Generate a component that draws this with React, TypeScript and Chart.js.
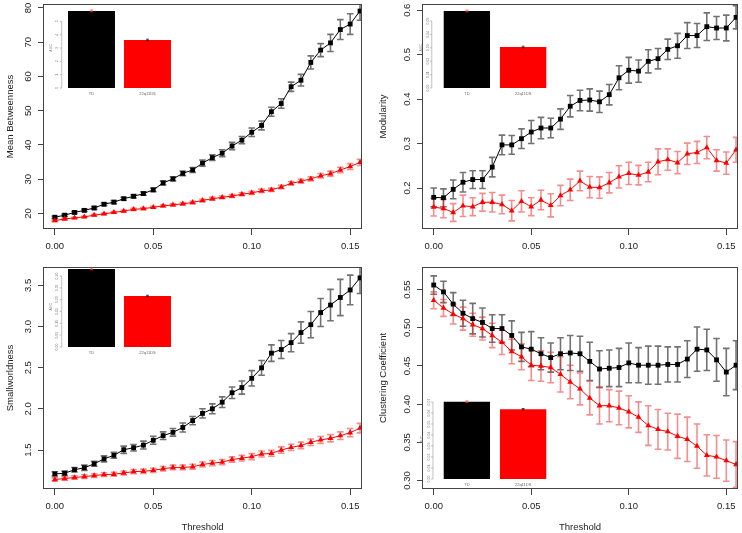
import React, { useEffect, useRef } from "react";
import { Chart, registerables } from "chart.js";
Chart.register(...registerables);

const FONT = "'Liberation Sans', Arial, Helvetica, sans-serif";

// ---------- data ----------
const thresholds = [0.000, 0.005, 0.010, 0.015, 0.020, 0.025, 0.030, 0.035, 0.040, 0.045, 0.050, 0.055, 0.060, 0.065, 0.070, 0.075, 0.080, 0.085, 0.090, 0.095, 0.100, 0.105, 0.110, 0.115, 0.120, 0.125, 0.130, 0.135, 0.140, 0.145, 0.150, 0.155];
const xTicks = [0, 0.05, 0.1, 0.15];

const betweennessTD = [18.9, 19.5, 20.3, 20.9, 21.6, 22.7, 23.3, 24.3, 25.0, 25.8, 26.9, 28.9, 30.1, 31.7, 32.7, 34.7, 36.3, 37.6, 39.7, 41.4, 43.7, 45.7, 49.7, 52.1, 57.0, 58.9, 64.1, 67.7, 69.8, 73.7, 75.3, 79.1];
const betweennessTDErr = [0.3, 0.3, 0.35, 0.35, 0.4, 0.4, 0.45, 0.45, 0.5, 0.5, 0.55, 0.6, 0.6, 0.7, 0.7, 0.9, 0.85, 1.0, 1.05, 1.05, 1.25, 1.3, 1.3, 1.4, 1.35, 1.7, 1.9, 1.9, 2.5, 2.9, 3.0, 2.7];
const betweenness22q = [17.9, 18.4, 18.7, 19.0, 19.5, 19.9, 20.3, 20.7, 21.2, 21.4, 21.8, 22.2, 22.5, 22.8, 23.2, 23.8, 24.3, 24.7, 25.1, 25.6, 26.0, 26.6, 26.9, 27.7, 28.8, 29.4, 30.1, 31.0, 31.6, 32.7, 33.7, 34.9];
const betweenness22qErr = [0.2, 0.2, 0.2, 0.2, 0.25, 0.25, 0.25, 0.3, 0.3, 0.3, 0.3, 0.3, 0.3, 0.35, 0.35, 0.35, 0.4, 0.4, 0.4, 0.45, 0.45, 0.5, 0.5, 0.5, 0.55, 0.6, 0.6, 0.65, 0.75, 0.8, 0.85, 0.9];
const betweennessTicks = [20, 30, 40, 50, 60, 70, 80];

const modularityTD = [0.179, 0.178, 0.197, 0.213, 0.219, 0.219, 0.247, 0.297, 0.297, 0.311, 0.326, 0.335, 0.335, 0.355, 0.384, 0.397, 0.398, 0.394, 0.410, 0.448, 0.465, 0.463, 0.485, 0.491, 0.512, 0.520, 0.543, 0.543, 0.563, 0.560, 0.560, 0.584];
const modularityTDErr = [0.021, 0.020, 0.021, 0.022, 0.020, 0.020, 0.022, 0.022, 0.021, 0.022, 0.026, 0.024, 0.022, 0.023, 0.024, 0.023, 0.025, 0.024, 0.023, 0.027, 0.029, 0.025, 0.026, 0.023, 0.023, 0.028, 0.029, 0.027, 0.031, 0.026, 0.029, 0.026];
const modularity22q = [0.157, 0.154, 0.145, 0.160, 0.158, 0.168, 0.168, 0.163, 0.149, 0.170, 0.158, 0.173, 0.161, 0.183, 0.196, 0.216, 0.202, 0.201, 0.212, 0.225, 0.233, 0.229, 0.236, 0.259, 0.264, 0.257, 0.277, 0.280, 0.291, 0.262, 0.256, 0.286];
const modularity22qErr = [0.020, 0.021, 0.020, 0.024, 0.020, 0.020, 0.022, 0.021, 0.023, 0.024, 0.020, 0.022, 0.026, 0.023, 0.024, 0.022, 0.024, 0.024, 0.023, 0.025, 0.025, 0.022, 0.022, 0.029, 0.024, 0.025, 0.024, 0.025, 0.025, 0.024, 0.025, 0.028];
const modularityTicks = [0.2, 0.3, 0.4, 0.5, 0.6];

const smallworldTD = [1.210, 1.218, 1.261, 1.285, 1.333, 1.393, 1.436, 1.504, 1.528, 1.560, 1.619, 1.675, 1.715, 1.774, 1.858, 1.945, 2.001, 2.081, 2.196, 2.259, 2.371, 2.498, 2.677, 2.721, 2.804, 2.927, 3.023, 3.170, 3.261, 3.353, 3.444, 3.591];
const smallworldTDErr = [0.026, 0.026, 0.028, 0.032, 0.030, 0.036, 0.036, 0.044, 0.040, 0.048, 0.048, 0.046, 0.046, 0.054, 0.050, 0.056, 0.060, 0.065, 0.070, 0.080, 0.093, 0.090, 0.100, 0.110, 0.110, 0.130, 0.160, 0.170, 0.190, 0.220, 0.180, 0.190];
const smallworld22q = [1.142, 1.154, 1.166, 1.178, 1.190, 1.202, 1.206, 1.222, 1.238, 1.242, 1.253, 1.273, 1.289, 1.289, 1.297, 1.325, 1.341, 1.353, 1.385, 1.401, 1.420, 1.452, 1.460, 1.500, 1.532, 1.556, 1.595, 1.623, 1.643, 1.675, 1.711, 1.766];
const smallworld22qErr = [0.020, 0.020, 0.020, 0.022, 0.022, 0.022, 0.024, 0.024, 0.026, 0.026, 0.026, 0.028, 0.028, 0.028, 0.030, 0.030, 0.032, 0.032, 0.032, 0.034, 0.036, 0.036, 0.036, 0.038, 0.038, 0.040, 0.040, 0.042, 0.044, 0.046, 0.050, 0.058];
const smallworldTicks = [1.5, 2.0, 2.5, 3.0, 3.5];

const clusteringTD = [0.556, 0.547, 0.531, 0.519, 0.512, 0.507, 0.499, 0.499, 0.490, 0.475, 0.472, 0.466, 0.461, 0.466, 0.467, 0.466, 0.456, 0.446, 0.447, 0.448, 0.454, 0.451, 0.451, 0.451, 0.452, 0.452, 0.459, 0.472, 0.471, 0.458, 0.442, 0.451];
const clusteringTDErr = [0.012, 0.014, 0.015, 0.017, 0.020, 0.019, 0.018, 0.018, 0.019, 0.019, 0.023, 0.021, 0.019, 0.021, 0.023, 0.023, 0.025, 0.024, 0.024, 0.025, 0.026, 0.023, 0.025, 0.025, 0.023, 0.023, 0.024, 0.029, 0.027, 0.028, 0.031, 0.032];
const clustering22q = [0.536, 0.526, 0.518, 0.512, 0.504, 0.499, 0.490, 0.481, 0.469, 0.462, 0.451, 0.450, 0.448, 0.439, 0.429, 0.420, 0.408, 0.398, 0.398, 0.395, 0.390, 0.383, 0.372, 0.367, 0.364, 0.358, 0.354, 0.345, 0.333, 0.331, 0.326, 0.321];
const clustering22qErr = [0.011, 0.011, 0.013, 0.015, 0.015, 0.015, 0.016, 0.016, 0.016, 0.017, 0.020, 0.020, 0.020, 0.023, 0.022, 0.021, 0.022, 0.024, 0.021, 0.022, 0.021, 0.020, 0.026, 0.026, 0.024, 0.029, 0.029, 0.029, 0.027, 0.028, 0.027, 0.030];
const clusteringTicks = [0.30, 0.35, 0.40, 0.45, 0.50, 0.55];

// inset bar charts (area under curve)
const aucGroups = ["TD", "22q11DS"];
const betweennessAUC = [5.78, 3.6];
const betweennessAUCErr = [0.04, 0.03];
const betweennessAUCTicks = [0, 1, 2, 3, 4, 5];
const modularityAUC = [0.0575, 0.0306];
const modularityAUCErr = [0.0004, 0.0003];
const modularityAUCTicks = [0, 0.01, 0.02, 0.03, 0.04, 0.05];
const smallworldAUC = [0.33, 0.2155];
const smallworldAUCErr = [0.002, 0.0015];
const smallworldAUCTicks = [0, 0.05, 0.1, 0.15, 0.2, 0.25, 0.3];
const clusteringAUC = [0.0703, 0.0634];
const clusteringAUCErr = [0.0003, 0.0003];
const clusteringAUCTicks = [0, 0.01, 0.02, 0.03, 0.04, 0.05, 0.06, 0.07];

// ---------- plugins ----------
const errorBarPlugin = {
  id: "errorBars",
  beforeDatasetsDraw(chart: any) {
    const { ctx, chartArea: ca } = chart;
    const ys = chart.scales.y;
    ctx.save();
    ctx.beginPath();
    ctx.rect(ca.left, ca.top, ca.right - ca.left, ca.bottom - ca.top);
    ctx.clip();
    chart.data.datasets.forEach((ds: any, i: number) => {
      if (!ds.errors) return;
      const meta = chart.getDatasetMeta(i);
      ctx.strokeStyle = ds.errorColor;
      ctx.lineWidth = 1.6;
      meta.data.forEach((pt: any, j: number) => {
        const v = ds.data[j].y;
        const e = ds.errors[j];
        const x = pt.x;
        const y1 = ys.getPixelForValue(v + e);
        const y2 = ys.getPixelForValue(v - e);
        ctx.beginPath();
        ctx.moveTo(x, y1);
        ctx.lineTo(x, y2);
        ctx.moveTo(x - 3.3, y1);
        ctx.lineTo(x + 3.3, y1);
        ctx.moveTo(x - 3.3, y2);
        ctx.lineTo(x + 3.3, y2);
        ctx.stroke();
      });
    });
    ctx.restore();
  },
};

const frameAndLabelsPlugin = {
  id: "frameLabels",
  afterDraw(chart: any, _a: any, opts: any) {
    const { ctx, chartArea: ca } = chart;
    const ys = chart.scales.y;
    ctx.save();
    ctx.strokeStyle = "#444";
    ctx.lineWidth = 1;
    ctx.strokeRect(Math.round(ca.left) + 0.5, Math.round(ca.top) + 0.5, Math.round(ca.right - ca.left) - 1, Math.round(ca.bottom - ca.top) - 1);
    ctx.fillStyle = "#222";
    ctx.font = `9.5px ${FONT}`;
    ctx.textAlign = "center";
    ctx.textBaseline = "middle";
    (opts.ticks as number[]).forEach((v) => {
      const py = ys.getPixelForValue(v);
      ctx.save();
      ctx.translate(ca.left - 14.5, py);
      ctx.rotate(-Math.PI / 2);
      ctx.fillText(v.toFixed(opts.decimals), 0, 0);
      ctx.restore();
    });
    ctx.restore();
  },
};

const insetPlugin = {
  id: "insetAxis",
  afterDraw(chart: any, _a: any, opts: any) {
    const { ctx, chartArea: ca } = chart;
    const ys = chart.scales.y;
    const ax = ca.left - opts.axisGap;
    const ticks: number[] = opts.ticks;
    ctx.save();
    ctx.strokeStyle = "#999";
    ctx.lineWidth = 0.6;
    const yTop = ys.getPixelForValue(ticks[ticks.length - 1]);
    const yBot = ys.getPixelForValue(ticks[0]);
    ctx.beginPath();
    ctx.moveTo(ax, yTop);
    ctx.lineTo(ax, yBot);
    ticks.forEach((v) => {
      const py = ys.getPixelForValue(v);
      ctx.moveTo(ax - 2, py);
      ctx.lineTo(ax, py);
    });
    ctx.stroke();
    ctx.fillStyle = "#777";
    ctx.font = `3.5px ${FONT}`;
    ctx.textAlign = "center";
    ctx.textBaseline = "middle";
    ticks.forEach((v) => {
      const py = ys.getPixelForValue(v);
      ctx.save();
      ctx.translate(ax - 4.2, py);
      ctx.rotate(-Math.PI / 2);
      ctx.fillText(v.toFixed(opts.decimals), 0, 0);
      ctx.restore();
    });
    ctx.save();
    ctx.translate(ax - 10.5, (ca.top + ca.bottom) / 2);
    ctx.rotate(-Math.PI / 2);
    ctx.fillText("AUC", 0, 0);
    ctx.restore();
    const meta = chart.getDatasetMeta(0);
    const ds = chart.data.datasets[0];
    meta.data.forEach((bar: any, i: number) => {
      ctx.fillStyle = "#666";
      ctx.font = `4px ${FONT}`;
      ctx.fillText(chart.data.labels[i], bar.x, yBot + 6.3);
      const v = ds.data[i];
      const e = opts.errors[i];
      const p1 = ys.getPixelForValue(v + e);
      const p2 = ys.getPixelForValue(v - e);
      ctx.strokeStyle = i === 0 ? "rgba(255,60,60,0.9)" : "#222";
      ctx.lineWidth = 0.8;
      ctx.beginPath();
      ctx.moveTo(bar.x, p1 - 0.4);
      ctx.lineTo(bar.x, p2 + 0.4);
      ctx.moveTo(bar.x - 1.5, p1 - 0.4);
      ctx.lineTo(bar.x + 1.5, p1 - 0.4);
      ctx.moveTo(bar.x - 1.5, p2 + 0.4);
      ctx.lineTo(bar.x + 1.5, p2 + 0.4);
      ctx.stroke();
    });
    ctx.restore();
  },
};

// ---------- panels ----------
type Panel = {
  left: number; top: number; width: number; height: number;
  yAxisWidth: number; xAxisHeight: number; padTop: number; padRight: number;
  yMin: number; yMax: number; yTicks: number[]; decimals: number;
  yTitle: string; yTitlePad: number; showXTitle: boolean;
  td: number[]; tdErr: number[]; dg: number[]; dgErr: number[];
};

const panels: Panel[] = [
  { left: 0, top: 0, width: 371, height: 263, yAxisWidth: 43, xAxisHeight: 34, padTop: 2, padRight: 9,
    yMin: 15.46, yMax: 81.16, yTicks: betweennessTicks, decimals: 0, yTitle: "Mean Betweenness", yTitlePad: 4.8, showXTitle: false,
    td: betweennessTD, tdErr: betweennessTDErr, dg: betweenness22q, dgErr: betweenness22qErr },
  { left: 371, top: 0, width: 371, height: 263, yAxisWidth: 51, xAxisHeight: 34, padTop: 2, padRight: 2,
    yMin: 0.1078, yMax: 0.614, yTicks: modularityTicks, decimals: 1, yTitle: "Modularity", yTitlePad: 6.8, showXTitle: false,
    td: modularityTD, tdErr: modularityTDErr, dg: modularity22q, dgErr: modularity22qErr },
  { left: 0, top: 263, width: 371, height: 270, yAxisWidth: 43, xAxisHeight: 44, padTop: 0, padRight: 9,
    yMin: 1.027, yMax: 3.723, yTicks: smallworldTicks, decimals: 1, yTitle: "Smallworldness", yTitlePad: 4.8, showXTitle: true,
    td: smallworldTD, tdErr: smallworldTDErr, dg: smallworld22q, dgErr: smallworld22qErr },
  { left: 371, top: 263, width: 371, height: 270, yAxisWidth: 51, xAxisHeight: 44, padTop: 0, padRight: 2,
    yMin: 0.2889, yMax: 0.5796, yTicks: clusteringTicks, decimals: 2, yTitle: "Clustering Coefficient", yTitlePad: 6.8, showXTitle: true,
    td: clusteringTD, tdErr: clusteringTDErr, dg: clustering22q, dgErr: clustering22qErr },
];

type Inset = {
  x0: number; x1: number; yZero: number; yPxPerUnit: number; yMax: number; barFrac: number; axisGap: number;
  values: number[]; errors: number[]; ticks: number[]; decimals: number;
};

const insets: Inset[] = [
  { x0: 63.5, x1: 175.5, yZero: 88, yPxPerUnit: 13.33, yMax: 6, barFrac: 0.839, axisGap: 1.8,
    values: betweennessAUC, errors: betweennessAUCErr, ticks: betweennessAUCTicks, decimals: 0 },
  { x0: 438.75, x1: 551.25, yZero: 88, yPxPerUnit: 1340, yMax: 0.06, barFrac: 0.823, axisGap: 7,
    values: modularityAUC, errors: modularityAUCErr, ticks: modularityAUCTicks, decimals: 2 },
  { x0: 63.5, x1: 175.5, yZero: 347, yPxPerUnit: 236.6, yMax: 0.34, barFrac: 0.839, axisGap: 1.8,
    values: smallworldAUC, errors: smallworldAUCErr, ticks: smallworldAUCTicks, decimals: 2 },
  { x0: 438.75, x1: 551.25, yZero: 479, yPxPerUnit: 1100, yMax: 0.072, barFrac: 0.823, axisGap: 5.8,
    values: clusteringAUC, errors: clusteringAUCErr, ticks: clusteringAUCTicks, decimals: 2 },
];

function LinePanel({ p }: { p: Panel }) {
  const ref = useRef<HTMLCanvasElement>(null);
  useEffect(() => {
    const chart = new Chart(ref.current as HTMLCanvasElement, {
      type: "line",
      data: {
        datasets: [
          {
            label: "TD",
            data: thresholds.map((t, i) => ({ x: t, y: p.td[i] })),
            borderColor: "#000",
            borderWidth: 1,
            pointStyle: "rect",
            pointRadius: 3.4,
            pointBackgroundColor: "#000",
            pointBorderWidth: 0,
            order: 1,
            errors: p.tdErr,
            errorColor: "rgba(60,60,60,0.72)",
          } as any,
          {
            label: "22q11DS",
            data: thresholds.map((t, i) => ({ x: t, y: p.dg[i] })),
            borderColor: "#ff0000",
            borderWidth: 1,
            pointStyle: "triangle",
            pointRadius: 3.4,
            pointBackgroundColor: "#ff0000",
            pointBorderWidth: 0,
            order: 0,
            errors: p.dgErr,
            errorColor: "rgba(235,50,50,0.55)",
          } as any,
        ],
      },
      options: {
        animation: false,
        responsive: false,
        events: [],
        layout: { padding: { top: p.padTop, right: p.padRight, left: 0, bottom: 0 } },
        plugins: {
          legend: { display: false },
          tooltip: { enabled: false },
          frameLabels: { ticks: p.yTicks, decimals: p.decimals },
        } as any,
        scales: {
          x: {
            type: "linear",
            min: -0.006,
            max: 0.156,
            afterBuildTicks: (s: any) => { s.ticks = xTicks.map((v) => ({ value: v })); },
            afterFit: (s: any) => { s.height = p.xAxisHeight; },
            ticks: {
              autoSkip: false, maxRotation: 0, minRotation: 0, padding: 5.7, color: "#222",
              font: { family: FONT, size: 9.5 },
              callback: (v: any) => Number(v).toFixed(2),
            },
            grid: { display: true, drawOnChartArea: false, drawTicks: true, tickLength: 6, color: "#444" },
            border: { display: false },
            title: {
              display: p.showXTitle, text: "Threshold", color: "#222",
              font: { family: FONT, size: 9.5 }, padding: { top: 0, bottom: 0 },
            },
          },
          y: {
            type: "linear",
            min: p.yMin,
            max: p.yMax,
            afterBuildTicks: (s: any) => { s.ticks = p.yTicks.map((v) => ({ value: v })); },
            afterFit: (s: any) => { s.width = p.yAxisWidth; },
            ticks: { display: false },
            grid: { display: true, drawOnChartArea: false, drawTicks: true, tickLength: 5, color: "#444" },
            border: { display: false },
            title: {
              display: true, text: p.yTitle, color: "#222",
              font: { family: FONT, size: 9.5 }, padding: { top: p.yTitlePad, bottom: 0 },
            },
          },
        },
      } as any,
      plugins: [errorBarPlugin, frameAndLabelsPlugin],
    });
    return () => chart.destroy();
  }, [p]);
  return (
    <canvas
      ref={ref}
      width={p.width}
      height={p.height}
      style={{ position: "absolute", left: p.left, top: p.top, width: p.width, height: p.height }}
    />
  );
}

function InsetBars({ s }: { s: Inset }) {
  const ref = useRef<HTMLCanvasElement>(null);
  const yTop = s.yZero - s.yMax * s.yPxPerUnit;
  const left = Math.floor(s.x0 - 26);
  const top = Math.floor(yTop - 5);
  const width = Math.ceil(s.x1 + 4) - left;
  const height = Math.ceil(s.yZero + 12) - top;
  useEffect(() => {
    const chart = new Chart(ref.current as HTMLCanvasElement, {
      type: "bar",
      data: {
        labels: aucGroups,
        datasets: [
          {
            data: s.values,
            backgroundColor: ["#000000", "#ff0000"],
            borderWidth: 0,
            barPercentage: s.barFrac,
            categoryPercentage: 1,
          },
        ],
      },
      options: {
        animation: false,
        responsive: false,
        events: [],
        layout: {
          padding: {
            left: s.x0 - left,
            right: left + width - s.x1,
            top: yTop - top,
            bottom: top + height - s.yZero,
          },
        },
        plugins: {
          legend: { display: false },
          tooltip: { enabled: false },
          insetAxis: { ticks: s.ticks, decimals: s.decimals, axisGap: s.axisGap, errors: s.errors },
        } as any,
        scales: {
          x: { display: false },
          y: { display: false, min: 0, max: s.yMax },
        },
      } as any,
      plugins: [insetPlugin],
    });
    return () => chart.destroy();
  }, [s]);
  return (
    <canvas
      ref={ref}
      width={width}
      height={height}
      style={{ position: "absolute", left, top, width, height }}
    />
  );
}

export default function App() {
  return (
    <div style={{ position: "fixed", left: 0, top: 0, width: 742, height: 533, background: "#fff", overflow: "hidden" }}>
      {panels.map((p, i) => (
        <LinePanel key={"p" + i} p={p} />
      ))}
      {insets.map((s, i) => (
        <InsetBars key={"i" + i} s={s} />
      ))}
    </div>
  );
}
